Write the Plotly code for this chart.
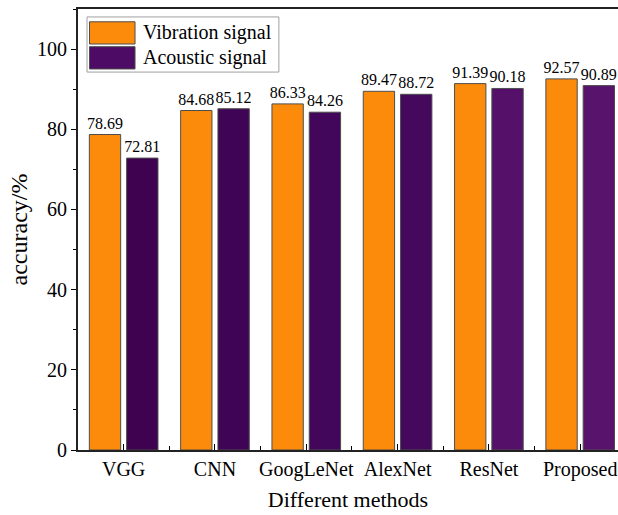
import plotly.graph_objects as go

# Classification accuracy (%) of each method on the two signal types
methods = ["VGG", "CNN", "GoogLeNet", "AlexNet", "ResNet", "Proposed"]
vibration = [78.69, 84.68, 86.33, 89.47, 91.39, 92.57]
acoustic = [72.81, 85.12, 84.26, 88.72, 90.18, 90.89]

# Styling
FONT = "Liberation Serif"
ORANGE = "#FC8B0C"
PURPLES = ["#3e0250", "#400456", "#42065a", "#44095c", "#55116a", "#58136c"]
LEGEND_PURPLE = "#4e0b66"
EDGE = "#4d4d4d"

x_pos = list(range(len(methods)))

fig = go.Figure()
fig.add_trace(go.Bar(
    x=x_pos, y=vibration, name="Vibration signal",
    marker=dict(color=ORANGE, line=dict(color=EDGE, width=1)),
    text=[f"{v:.2f}" for v in vibration], textposition="outside",
    constraintext="none", cliponaxis=False,
    textfont=dict(family=FONT, size=16, color="black"),
    showlegend=False,
))
fig.add_trace(go.Bar(
    x=x_pos, y=acoustic, name="Acoustic signal",
    marker=dict(color=PURPLES, line=dict(color=EDGE, width=1)),
    text=[f"{v:.2f}" for v in acoustic], textposition="outside",
    constraintext="none", cliponaxis=False,
    textfont=dict(family=FONT, size=16, color="black"),
    showlegend=False,
))

# Hand-built legend box with large swatches
legend_items = [("Vibration signal", ORANGE, 0.971, 0.9206),
                ("Acoustic signal", LEGEND_PURPLE, 0.9145, 0.864)]
shapes = [dict(type="rect", xref="paper", yref="paper",
               x0=0.0167, x1=0.372, y0=0.857, y1=0.982,
               line=dict(color="#a0a0a0", width=1), fillcolor="white")]
annotations = []
for label, col, ytop, ybot in legend_items:
    shapes.append(dict(type="rect", xref="paper", yref="paper",
                       x0=0.0213, x1=0.1056, y0=ybot, y1=ytop,
                       line=dict(color=EDGE, width=1), fillcolor=col))
    annotations.append(dict(xref="paper", yref="paper", x=0.117,
                            y=(ytop + ybot) / 2, text=label, showarrow=False,
                            xanchor="left", yanchor="middle",
                            font=dict(family=FONT, size=20, color="black")))

fig.update_layout(
    width=618, height=515,
    margin=dict(l=78, r=0, t=9, b=65),
    paper_bgcolor="white", plot_bgcolor="white",
    bargap=0.183, bargroupgap=0.16, barmode="group",
    font=dict(family=FONT, color="black"),
    shapes=shapes, annotations=annotations,
    xaxis=dict(
        range=[-0.5, 5.414], tickmode="array", tickvals=x_pos, ticktext=methods,
        ticks="inside", ticklen=6, tickwidth=1, tickcolor="black",
        minor=dict(tickmode="linear", tick0=0.5, dtick=1, ticks="inside",
                   ticklen=4, tickwidth=1, tickcolor="black"),
        showline=True, linecolor="#222222", linewidth=2, mirror=True,
        showgrid=False, zeroline=False,
        tickfont=dict(family=FONT, size=20),
        title=dict(text="Different methods", font=dict(family=FONT, size=22), standoff=12),
    ),
    yaxis=dict(
        range=[0, 110], dtick=20, tick0=0,
        ticks="outside", ticklen=5, tickwidth=1, tickcolor="black",
        minor=dict(dtick=10, ticks="outside", ticklen=3, tickwidth=1, tickcolor="black"),
        showline=True, linecolor="#222222", linewidth=2, mirror=False,
        showgrid=False, zeroline=False,
        tickfont=dict(family=FONT, size=20),
        title=dict(text="accuracy/%", font=dict(family=FONT, size=24), standoff=3),
    ),
)

fig.write_html("out.html")
